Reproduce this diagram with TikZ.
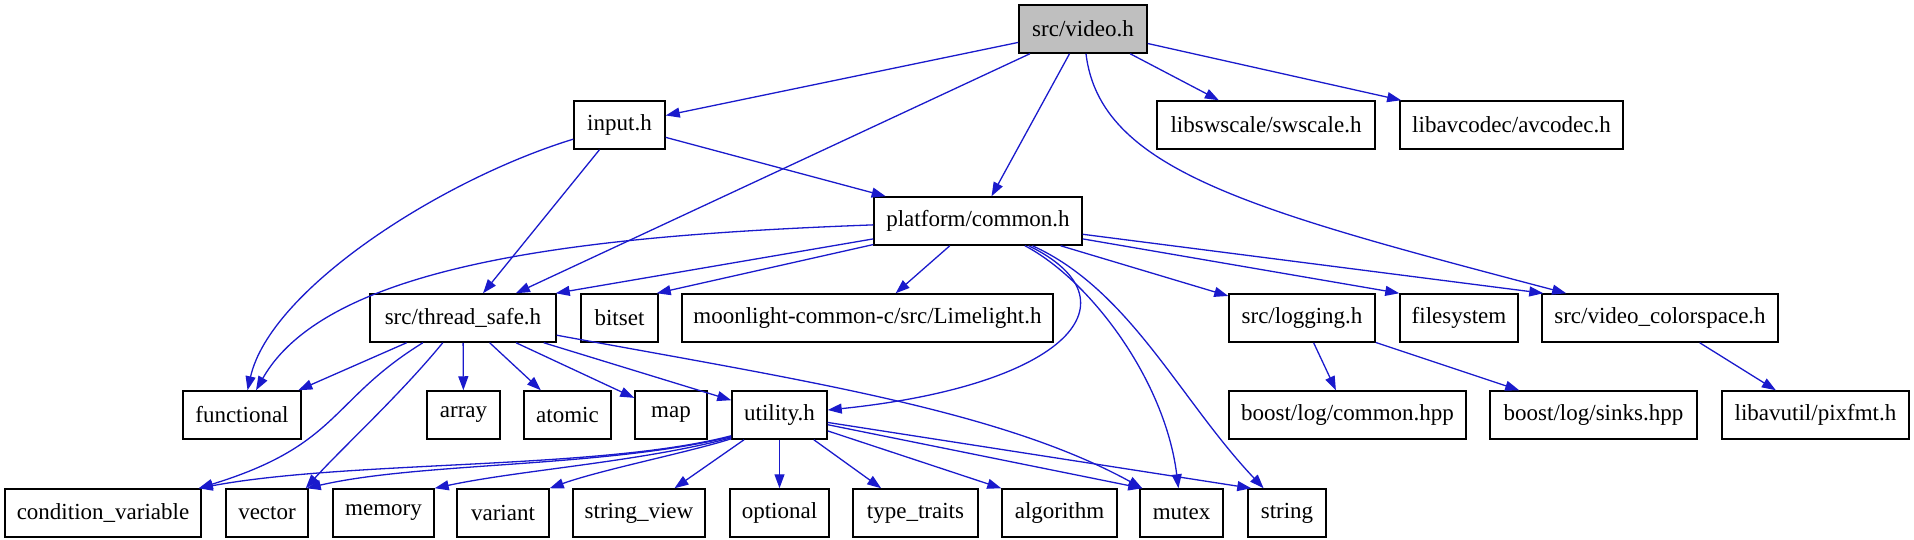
\documentclass[tikz,border=0pt]{standalone}
\usepackage{fontspec}
\setmainfont{Liberation Serif}
\usepackage{tikz}
\usetikzlibrary{arrows.meta}

\definecolor{edgeblue}{RGB}{26,26,204}
\definecolor{boxgray}{RGB}{191,191,191}

\tikzset{
  hdr/.style={draw=black,line width=1.5pt,rectangle,minimum height=48pt,
              inner sep=0pt,font=\fontsize{23pt}{27pt}\selectfont},
  dep/.style={color=edgeblue,line width=1.3pt,
              -{Triangle[length=14pt,width=10pt]}}
}

\begin{document}
\begin{tikzpicture}[x=1pt,y=-1pt]
	\useasboundingbox (0,0) rectangle (1914,539);
	% top rows
	\node[hdr,fill=boxgray,minimum width=128pt] (N0) at (1083,29) {src/video.h};
	\node[hdr,minimum width=91pt] (N1) at (619.5,125) {input.h};
	\node[hdr,minimum width=218pt] (N2) at (1266,125) {libswscale/swscale.h};
	\node[hdr,minimum width=223pt] (N3) at (1511.5,125) {libavcodec/avcodec.h};
	\node[hdr,minimum width=208pt] (N4) at (978,221) {platform/common.h};
	\node[hdr,minimum width=186pt] (N5) at (463,318) {src/thread\_safe.h};
	\node[hdr,minimum width=77pt] (N6) at (619.5,318) {bitset};
	\node[hdr,minimum width=371pt] (N7) at (867.5,318) {moonlight-common-c/src/Limelight.h};
	\node[hdr,minimum width=146pt] (N8) at (1302,318) {src/logging.h};
	\node[hdr,minimum width=118pt] (N9) at (1459,318) {filesystem};
	\node[hdr,minimum width=236pt] (N10) at (1660,318) {src/video\_colorspace.h};
	\node[hdr,minimum width=118pt] (N11) at (242,415) {functional};
	\node[hdr,minimum width=73pt] (N12) at (463.5,415) {array};
	\node[hdr,minimum width=87pt] (N13) at (567.5,415) {atomic};
	\node[hdr,minimum width=72pt] (N14) at (671,415) {map};
	\node[hdr,minimum width=95pt] (N15) at (779.5,415) {utility.h};
	\node[hdr,minimum width=237pt] (N16) at (1347.5,415) {boost/log/common.hpp};
	\node[hdr,minimum width=207pt] (N17) at (1593.5,415) {boost/log/sinks.hpp};
	\node[hdr,minimum width=187pt] (N18) at (1815.5,415) {libavutil/pixfmt.h};
	% bottom row
	\node[hdr,minimum width=196pt] (N19) at (103,513) {condition\_variable};
	\node[hdr,minimum width=82pt] (N20) at (267,513) {vector};
	\node[hdr,minimum width=101pt] (N21) at (383.5,513) {memory};
	\node[hdr,minimum width=92pt] (N22) at (503,513) {variant};
	\node[hdr,minimum width=132pt] (N23) at (639,513) {string\_view};
	\node[hdr,minimum width=99pt] (N24) at (779.5,513) {optional};
	\node[hdr,minimum width=125pt] (N25) at (915.5,513) {type\_traits};
	\node[hdr,minimum width=115pt] (N26) at (1059.5,513) {algorithm};
	\node[hdr,minimum width=83pt] (N27) at (1181.5,513) {mutex};
	\node[hdr,minimum width=78pt] (N28) at (1287,513) {string};
	% straight edges
	\path[dep]
	     (N0) edge (N1)  (N0) edge (N5)  (N0) edge (N4)
	     (N0) edge (N2)  (N0) edge (N3)
	     (N1) edge (N5)  (N1) edge (N4)
	     (N4) edge ([xshift=-1pt]N5.north east)  (N4) edge ([xshift=-2pt]N6.north east)
	     (N4) edge (N7)  (N4) edge (N8)
	     (N4) edge (N9.north west)  (N4) edge ([xshift=2pt]N10.north west)
	     (N5) edge (N11)  (N5) edge (N12)  (N5) edge (N13)
	     (N5) edge (N14)  (N5) edge (N15)
	     (N15) edge (N23)  (N15) edge (N24)  (N15) edge (N25)
	     (N15) edge (N26.north west)
	     (N15) edge ([xshift=3pt]N27.north west)
	     (N15) edge ([xshift=4pt]N28.north west)
	     (N8) edge (N16)  (N8) edge (N17)
	     (N10) edge (N18);
	% curved edges
	\draw[dep] (N0) .. controls (1100,170) and (1250,210) .. (N10);
	\draw[dep] (N1) .. controls (440,180) and (270,290) .. (N11);
	\draw[dep] (N4) .. controls (600,235) and (330,260) .. (N11);
	\draw[dep] (N4) .. controls (1140,300) and (1070,385) .. (N15);
	\draw[dep] (N4) .. controls (1090,280) and (1165,380) .. (N27);
	\draw[dep] (N4) .. controls (1130,290) and (1180,400) .. (N28);
	\draw[dep] (N5) .. controls (330,400) and (340,445) .. ([xshift=-3pt]N19.north east);
	\draw[dep] (N5) .. controls (400,395) and (340,450) .. ([xshift=-3pt]N20.north east);
	\draw[dep] (N5) .. controls (800,380) and (1000,410) .. ([xshift=3pt]N27.north west);
	\draw[dep] ([yshift=4pt]N15.south west) .. controls (600,470) and (350,460) .. ([xshift=-3pt]N19.north east);
	\draw[dep] ([yshift=3pt]N15.south west) .. controls (600,468) and (420,462) .. ([xshift=-2pt]N20.north east);
	\draw[dep] ([yshift=2pt]N15.south west) .. controls (640,462) and (520,470) .. (N21.north east);
	\draw[dep] ([yshift=1pt]N15.south west) .. controls (690,452) and (600,470) .. (N22.north east);
\end{tikzpicture}
\end{document}
